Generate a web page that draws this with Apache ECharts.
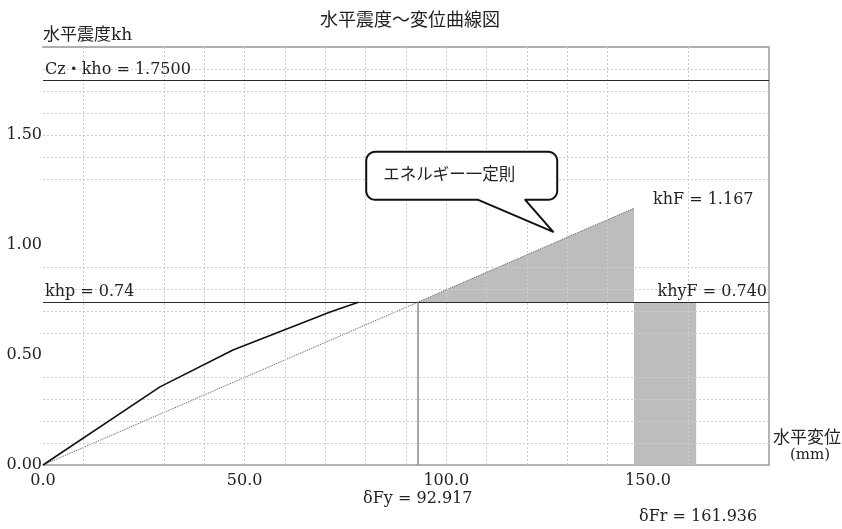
<!DOCTYPE html>
<html>
<head>
<meta charset="utf-8">
<script src="https://cdn.jsdelivr.net/npm/echarts@6/dist/echarts.min.js"></script>
<style>
  html, body { margin: 0; padding: 0; background: #ffffff; }
  #chart { width: 842px; height: 529px; }
</style>
</head>
<body>
<div id="chart"></div>
<script>
// 水平震度～変位曲線（エネルギー一定則による照査）

// capacity curve: horizontal displacement (mm) and seismic coefficient
const curveDisp = [0, 29.0, 47.1, 71.2, 78.2];
const curveKh   = [0, 0.355, 0.523, 0.695, 0.74];

// characteristic values
const khp   = 0.74;      // yield seismic coefficient
const czKho = 1.75;      // design seismic coefficient Cz・kho
const dFy   = 92.917;    // yield displacement δFy
const khF   = 1.167;     // elastic-equivalent seismic coefficient khF
const khyF  = 0.740;     // khyF
const dFr   = 161.936;   // response displacement δFr

// displacement reached by the elastic line at khF
const dF = dFy * khF / khp;

// axis extents and label steps
const xMax = 180, xStep = 50;
const yMax = 1.9, yStep = 0.5;

// dashed reference grid
const gridDisp = [10, 30, 40, 50, 60, 70, 80, 90, 100, 110, 120, 130, 140, 160];
const gridKh   = [0.1, 0.2, 0.3, 0.4, 0.6, 0.7, 0.8, 0.9, 1.3, 1.4, 1.5, 1.6, 1.7, 1.8];

// callout pointer tip (data coordinates)
const calloutTip = [126.5, 1.06];

const SERIF = "'DejaVu Serif', 'Noto Sans CJK JP', serif";
const GOTHIC = "'Noto Sans CJK JP', sans-serif";
const INK = '#222';

const chart = echarts.init(document.getElementById('chart'), null, { renderer: 'canvas' });

const frameAxis = (extra) => Object.assign({
  type: 'value', min: 0,
  axisLabel: { show: false }, axisTick: { show: false }, splitLine: { show: false }
}, extra);

chart.setOption({
  animation: false,
  backgroundColor: '#ffffff',
  title: {
    text: '水平震度～変位曲線図',
    left: 405, top: 5, textAlign: 'center',
    textStyle: { fontFamily: GOTHIC, fontSize: 18, fontWeight: 'normal', color: INK }
  },
  grid: { left: 43, right: 73, top: 47, bottom: 64 },
  xAxis: [
    {
      type: 'value', min: 0, max: xMax, interval: xStep,
      axisLine: { show: true, onZero: false, lineStyle: { color: '#9a9a9a', width: 1.5 } },
      axisTick: { show: false },
      splitLine: { show: false },
      axisLabel: {
        showMaxLabel: false, margin: 8,
        formatter: v => v.toFixed(1),
        fontFamily: SERIF, fontSize: 16, color: INK
      }
    },
    frameAxis({
      max: xMax, position: 'top',
      axisLine: { show: true, onZero: false, lineStyle: { color: '#b0b0b0', width: 2 } }
    })
  ],
  yAxis: [
    {
      type: 'value', min: 0, max: yMax, interval: yStep,
      name: '水平震度kh', nameLocation: 'end', nameGap: 3,
      nameTextStyle: { align: 'left', verticalAlign: 'bottom', fontFamily: SERIF, fontSize: 17, color: INK },
      axisLine: { show: false, onZero: false },
      axisTick: { show: false },
      splitLine: { show: false },
      axisLabel: {
        showMaxLabel: false, margin: 1,
        formatter: v => v.toFixed(2),
        fontFamily: SERIF, fontSize: 16, color: INK
      }
    },
    frameAxis({
      max: yMax, position: 'right',
      axisLine: { show: true, onZero: false, lineStyle: { color: '#9a9a9a', width: 1.5 } }
    })
  ],
  series: [
    {
      name: 'grid', type: 'line', data: [], z: 1, silent: true, symbol: 'none',
      markLine: {
        silent: true, symbol: 'none', animation: false,
        label: { show: false },
        lineStyle: { color: '#cdcdcd', type: [2, 2], width: 1 },
        data: gridDisp.map(v => ({ xAxis: v })).concat(gridKh.map(v => ({ yAxis: v })))
      }
    },
    {
      name: 'energy triangle', type: 'line', z: 2, silent: true, symbol: 'none',
      data: [[dFy, khp], [dF, khF]],
      lineStyle: { width: 0 },
      areaStyle: { color: '#bdbdbd', opacity: 1, origin: khp }
    },
    {
      name: 'energy rectangle', type: 'line', z: 2, silent: true, symbol: 'none',
      data: [[dF, khyF], [dFr, khyF]],
      lineStyle: { width: 0 },
      areaStyle: { color: '#bdbdbd', opacity: 1, origin: 0 }
    },
    {
      name: 'elastic line', type: 'line', z: 3, silent: true, symbol: 'none',
      data: [[0, 0], [dFy, khp], [dF, khF]],
      lineStyle: { color: '#555555', width: 1, type: [1, 1] }
    },
    {
      name: 'levels', type: 'line', data: [], z: 4, silent: true, symbol: 'none',
      markLine: {
        silent: true, symbol: 'none', animation: false,
        lineStyle: { color: '#2a2a2a', width: 1.2, type: 'solid' },
        label: { show: true, fontFamily: SERIF, fontSize: 16, color: INK, distance: [2, 2] },
        data: [
          { yAxis: czKho, label: { position: 'insideStartTop', formatter: 'Cz・kho = ' + czKho.toFixed(4) } },
          { yAxis: khp, label: { position: 'insideStartTop', formatter: 'khp = ' + khp.toFixed(2) } },
          { yAxis: khyF, label: { position: 'insideEndTop', formatter: 'khyF = ' + khyF.toFixed(3) } },
          [
            { coord: [dFy, 0], lineStyle: { color: '#8a8a8a', width: 1.5 }, label: { show: false } },
            { coord: [dFy, khp] }
          ]
        ]
      }
    },
    {
      name: 'capacity curve', type: 'line', z: 5, silent: true, symbol: 'none',
      data: curveDisp.map((d, i) => [d, curveKh[i]]),
      lineStyle: { color: '#111111', width: 1.6 }
    }
  ]
});

// annotations anchored on data positions
const px = (x, y) => chart.convertToPixel({ gridIndex: 0 }, [x, y]);
const pF = px(dF, khF);
const pFy = px(dFy, 0);
const pFr = px(dFr, 0);
const pEnd = px(xMax, 0);
const tip = px(calloutTip[0], calloutTip[1]);

// speech bubble outline: rounded box with a pointer toward the triangle
const L = tip[0] - 187, R = tip[0] + 4, T = tip[1] - 80, B = tip[1] - 32, r = 9;
const b1 = tip[0] - 75, b2 = tip[0] - 28;
function arc(cx, cy, a0, a1) {
  const pts = [];
  for (let i = 0; i <= 8; i++) {
    const a = (a0 + (a1 - a0) * i / 8) * Math.PI / 180;
    pts.push([cx + r * Math.cos(a), cy + r * Math.sin(a)]);
  }
  return pts;
}
const bubble = []
  .concat(arc(L + r, T + r, 180, 270))
  .concat(arc(R - r, T + r, 270, 360))
  .concat(arc(R - r, B - r, 0, 90))
  .concat([[b2, B], [tip[0], tip[1]], [b1, B]])
  .concat(arc(L + r, B - r, 90, 180));

const txt = (x, y, text, extra) => ({
  type: 'text', x: x, y: y, z: 10, silent: true,
  style: Object.assign({ text: text, fill: INK, font: '16px ' + SERIF, textVerticalAlign: 'middle' }, extra || {})
});

chart.setOption({
  graphic: [
    {
      type: 'polygon', z: 9, silent: true,
      shape: { points: bubble },
      style: { fill: '#ffffff', stroke: '#111111', lineWidth: 2, lineJoin: 'round' }
    },
    txt(L + 17, (T + B) / 2 - 2, 'エネルギー一定則', { font: '16.5px ' + GOTHIC }),
    txt(pF[0] + 19, pF[1] - 8, 'khF = ' + khF.toFixed(3), { textAlign: 'left' }),
    txt(pFy[0], pFy[1] + 34, 'δFy = ' + dFy.toFixed(3), { textAlign: 'center' }),
    txt(pFr[0] + 2, pFr[1] + 52, 'δFr = ' + dFr.toFixed(3), { textAlign: 'center' }),
    txt(pEnd[0] + 38, pEnd[1] - 28, '水平変位', { textAlign: 'center', font: '17px ' + GOTHIC }),
    txt(pEnd[0] + 41, pEnd[1] - 10, '(mm)', { textAlign: 'center', font: '15px ' + SERIF })
  ]
});
</script>
</body>
</html>
